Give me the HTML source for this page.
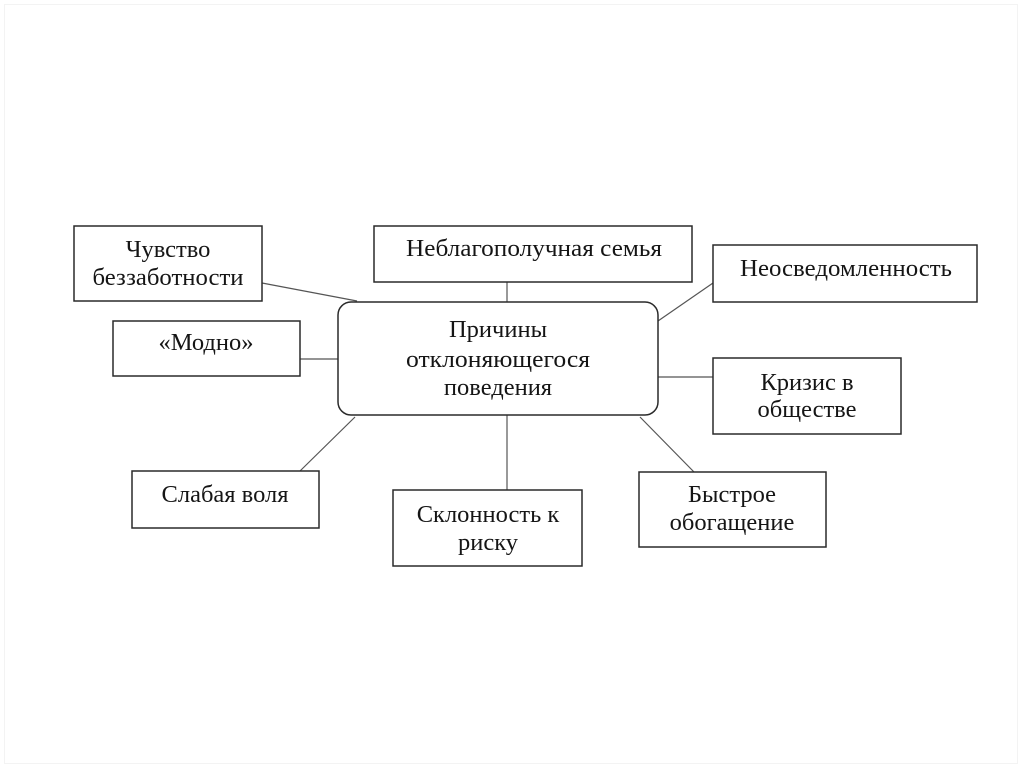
<!DOCTYPE html>
<html>
<head>
<meta charset="utf-8">
<style>
html,body{margin:0;padding:0;background:#fff;}
body{width:1024px;height:767px;overflow:hidden;position:relative;}
svg{position:absolute;left:0;top:0;}
text{font-family:"Liberation Serif","DejaVu Serif",serif;font-size:24.5px;fill:#151515;text-anchor:middle;}
</style>
</head>
<body>
<svg width="1024" height="767" viewBox="0 0 1024 767" xmlns="http://www.w3.org/2000/svg">
  <rect x="4.5" y="4.5" width="1013" height="759" fill="none" stroke="#f3f3f3" stroke-width="1"/>
  <!-- connectors -->
  <g stroke="#555" stroke-width="1.2" fill="none">
    <line x1="262" y1="283" x2="357" y2="301"/>
    <line x1="300" y1="359" x2="338" y2="359"/>
    <line x1="507" y1="282" x2="507" y2="302"/>
    <line x1="713" y1="283" x2="658" y2="321"/>
    <line x1="658" y1="377" x2="713" y2="377"/>
    <line x1="300" y1="471" x2="355" y2="417"/>
    <line x1="507" y1="415" x2="507" y2="490"/>
    <line x1="640" y1="417" x2="694" y2="472"/>
  </g>
  <!-- boxes -->
  <g stroke="#2a2a2a" stroke-width="1.5" fill="#fff">
    <rect x="74" y="226" width="188" height="75"/>
    <rect x="113" y="321" width="187" height="55"/>
    <rect x="374" y="226" width="318" height="56"/>
    <rect x="713" y="245" width="264" height="57"/>
    <rect x="338" y="302" width="320" height="113" rx="13" ry="13"/>
    <rect x="713" y="358" width="188" height="76"/>
    <rect x="132" y="471" width="187" height="57"/>
    <rect x="393" y="490" width="189" height="76"/>
    <rect x="639" y="472" width="187" height="75"/>
  </g>
  <!-- labels -->
  <text x="168" y="257">Чувство</text>
  <text x="168" y="285" textLength="151" lengthAdjust="spacingAndGlyphs">беззаботности</text>
  <text x="206" y="350">«Модно»</text>
  <text x="534" y="256" textLength="256" lengthAdjust="spacingAndGlyphs">Неблагополучная семья</text>
  <text x="846" y="276" textLength="212" lengthAdjust="spacingAndGlyphs">Неосведомленность</text>
  <text x="498" y="337">Причины</text>
  <text x="498" y="367" textLength="184" lengthAdjust="spacingAndGlyphs">отклоняющегося</text>
  <text x="498" y="395">поведения</text>
  <text x="807" y="390">Кризис в</text>
  <text x="807" y="417">обществе</text>
  <text x="225" y="502">Слабая воля</text>
  <text x="488" y="522">Склонность к</text>
  <text x="488" y="550">риску</text>
  <text x="732" y="502">Быстрое</text>
  <text x="732" y="530">обогащение</text>
</svg>
</body>
</html>
